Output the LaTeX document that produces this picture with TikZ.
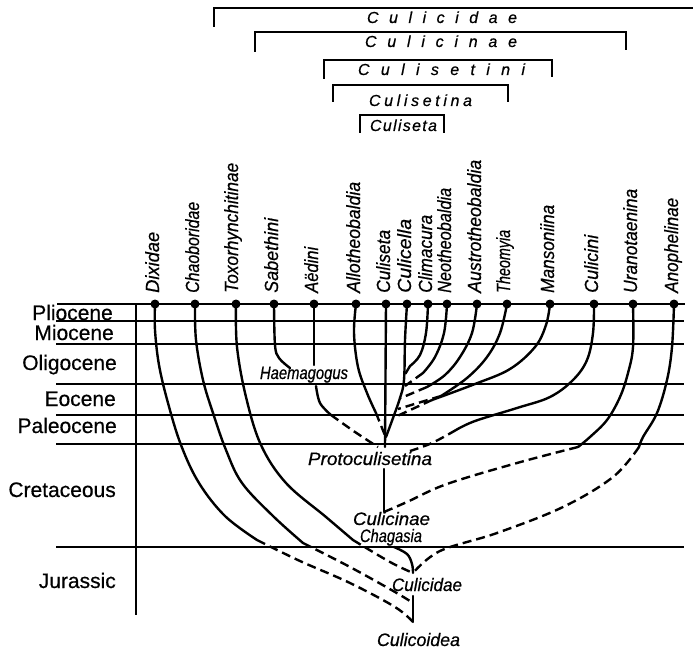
\documentclass[tikz,border=0pt]{standalone}
\usepackage{fontspec}
\setmainfont{Liberation Sans}
\newfontfamily\lfont[FakeBold=0.6]{Liberation Sans}
\newfontfamily\efont[FakeBold=0.5]{Liberation Sans}
\usepackage{graphicx}
\newcommand\fitw[2]{\resizebox{#1pt}{\height}{#2}}
\newcommand\spr[2]{\makebox[#1pt][s]{#2}}
\begin{document}
\begin{tikzpicture}[x=1pt,y=-1pt,
  grid/.style={line width=1.1pt},
  br/.style={line width=2.4pt, line cap=round},
  dsh/.style={line width=2.4pt, dash pattern=on 9pt off 5pt},
  brk/.style={line width=1.6pt},
  dot/.style={circle, fill=black, inner sep=0pt, minimum size=9pt},
  lab/.style={font=\fontsize{19}{19}\lfont\itshape, inner sep=0pt, rotate=90, anchor=base west},
  tlab/.style={font=\fontsize{18}{18}\lfont\itshape, inner sep=0pt, anchor=base},
  hdr/.style={font=\fontsize{16}{16}\lfont\itshape, inner sep=0pt, anchor=base},
  era/.style={font=\fontsize{21}{21}\efont, inner sep=0pt, anchor=base east}]
\useasboundingbox (0,0) rectangle (693,650);

% header brackets
\draw[brk] (214,27) -- (214,8) -- (693,8);
\draw[brk] (255,52) -- (255,32) -- (626,32) -- (626,50);
\draw[brk] (324,79) -- (324,60) -- (552,60) -- (552,77);
\draw[brk] (333,102) -- (333,85) -- (508,85) -- (508,102);
\draw[brk] (360,133) -- (360,115) -- (444,115) -- (444,133);
\node[hdr] (hCulicidae) at (442,23) {\spr{150}{C\hfill u\hfill l\hfill i\hfill c\hfill i\hfill d\hfill a\hfill e}};
\node[hdr] (hCulicinae) at (441,47) {\spr{152}{C\hfill u\hfill l\hfill i\hfill c\hfill i\hfill n\hfill a\hfill e}};
\node[hdr] (hCulisetini) at (441.5,75) {\spr{167}{C\hfill u\hfill l\hfill i\hfill s\hfill e\hfill t\hfill i\hfill n\hfill i}};
\node[hdr] (hCulisetina) at (420.5,106) {\spr{103}{C\hfill u\hfill l\hfill i\hfill s\hfill e\hfill t\hfill i\hfill n\hfill a}};
\node[hdr] (hCuliseta) at (403.5,131) {\spr{67}{C\hfill u\hfill l\hfill i\hfill s\hfill e\hfill t\hfill a}};

% time grid
\draw[line width=2.6pt] (57,304) -- (685,304);
\foreach \yy in {321,344,384,415,444,547} \draw[grid] (56,\yy) -- (684,\yy);
\draw[grid] (136,304) -- (136,615);

% era labels
\node[era] (ePlio) at (113,320) {Pliocene};
\node[era] (eMio) at (114,340) {Miocene};
\node[era] (eOli) at (117,370) {Oligocene};
\node[era] (eEo) at (116,406) {Eocene};
\node[era] (ePal) at (117,433) {Paleocene};
\node[era] (eCre) at (116,497) {Cretaceous};
\node[era] (eJur) at (116,588) {Jurassic};

% junctions
\coordinate (jProto) at (385,447);
\coordinate (jProtoB) at (384,469);
\coordinate (jCulicinae) at (384,512);
\coordinate (jChag) at (394,547);
\coordinate (jCulicidae) at (413,573);
\coordinate (jCulicidaeB) at (413,596);
\coordinate (jChaob) at (413,603);
\coordinate (jCulicoidea) at (413,622);

% tip dots
\node[dot] (dDix) at (155,304) {};
\node[dot] (dCha) at (195,304) {};
\node[dot] (dTox) at (236,304) {};
\node[dot] (dSab) at (274,304) {};
\node[dot] (dAed) at (314,304) {};
\node[dot] (dAll) at (356,304) {};
\node[dot] (dCus) at (386,304) {};
\node[dot] (dCuc) at (407,304) {};
\node[dot] (dCli) at (428,304) {};
\node[dot] (dNeo) at (447,304) {};
\node[dot] (dAus) at (477,304) {};
\node[dot] (dThe) at (507,304) {};
\node[dot] (dMan) at (550,304) {};
\node[dot] (dCui) at (594,304) {};
\node[dot] (dUra) at (633,304) {};
\node[dot] (dAno) at (674,304) {};

% tip labels
\node[lab] (lDix) at (159,293) {\fitw{61}{Dixidae}};
\node[lab] (lCha) at (199,293) {\fitw{91}{Chaoboridae}};
\node[lab] (lTox) at (238,293) {\fitw{130}{Toxorhynchitinae}};
\node[lab] (lSab) at (278,293) {\fitw{75}{Sabethini}};
\node[lab] (lAed) at (318,293) {\fitw{46}{Aëdini}};
\node[lab] (lAll) at (360,293) {\fitw{111}{Allotheobaldia}};
\node[lab] (lCus) at (390,293) {\fitw{63}{Culiseta}};
\node[lab] (lCuc) at (411,293) {\fitw{74}{Culicella}};
\node[lab] (lCli) at (432,293) {\fitw{78}{Climacura}};
\node[lab] (lNeo) at (451,293) {\fitw{105}{Neotheobaldia}};
\node[lab] (lAus) at (481,293) {\fitw{133}{Austrotheobaldia}};
\node[lab] (lThe) at (510,293) {\fitw{63}{Theomyia}};
\node[lab] (lMan) at (554,293) {\fitw{88}{Mansoniina}};
\node[lab] (lCui) at (598,293) {\fitw{58}{Culicini}};
\node[lab] (lUra) at (637,293) {\fitw{104}{Uranotaenina}};
\node[lab] (lAno) at (678,293) {\fitw{95}{Anophelinae}};

% inner labels
\node[tlab] (tHae) at (304,379) {\fitw{88}{Haemagogus}};
\node[tlab] (tPro) at (370,465) {\fitw{124}{Protoculisetina}};
\node[tlab] (tCin) at (391.5,525) {\fitw{77}{Culicinae}};
\node[tlab] (tCha) at (391,542) {\fitw{62}{Chagasia}};
\node[tlab] (tCid) at (427,591) {\fitw{70}{Culicidae}};
\node[tlab] (tCoi) at (418.5,646) {\fitw{83}{Culicoidea}};

% branches: outgroups
\draw[br] plot[smooth, tension=0.6] coordinates {(dDix.center) (155,330) (159,365) (168,403) (181,445) (199,483) (225,516) (257,540)};
\draw[dsh] plot[smooth, tension=0.6] coordinates {(257,540) (300,561) (350,583) (395,607) (jCulicoidea)};
\draw[br] plot[smooth, tension=0.6] coordinates {(dCha.center) (196,340) (203,380) (213,413) (226,450) (242,483) (273,516) (303,543)};
\draw[dsh] plot[smooth, tension=0.6] coordinates {(303,543) (350,567) (395,592) (jChaob)};
\draw[br] plot[smooth, tension=0.6] coordinates {(dTox.center) (237,347) (246,397) (261,445) (286,483) (326,517) (353,540)};
\draw[dsh] plot[smooth, tension=0.6] coordinates {(353,540) (390,562) (jCulicidae)};

% Sabethini, Aedini, Haemagogus
\draw[br] plot[smooth, tension=0.6] coordinates {(dSab.center) (275,345) (279,358) (290,368)};
\draw[br] (dAed.center) -- (314,365);
\draw[br] plot[smooth, tension=0.6] coordinates {(316,386) (320,403) (331,415)};
\draw[dsh] plot[smooth, tension=0.6] coordinates {(331,415) (355,432) (378,447)};

% Culisetina group
\draw[br] plot[smooth, tension=0.6] coordinates {(dAll.center) (354,333) (358,367) (367,393) (376,413)};
\draw[dsh] (376,413) -- (386,438);
\draw[br] (dCus.center) -- (jProto);
\draw[br] plot[smooth, tension=0.6] coordinates {(dCuc.center) (405,340) (404,380) (400,398) (393,418) (386,437)};
\draw[br] plot[smooth, tension=0.6] coordinates {(dCli.center) (426,333) (420,355) (410,366)};
\draw[dsh] (410,366) -- (404,376);
\draw[br] plot[smooth, tension=0.6] coordinates {(dNeo.center) (444,333) (435,357) (423,373)};
\draw[dsh] (423,373) -- (405,386);
\draw[br] plot[smooth, tension=0.6] coordinates {(dAus.center) (472,333) (460,357) (445,375) (427,387)};
\draw[dsh] (427,387) -- (401,398);
\draw[br] plot[smooth, tension=0.6] coordinates {(dThe.center) (500,333) (487,357) (467,378) (441,396)};
\draw[dsh] (441,396) -- (398,409);
\draw[br] plot[smooth, tension=0.6] coordinates {(dMan.center) (546,325) (535,347) (510,369) (475,384) (432,400)};
\draw[dsh] (432,400) -- (395,417);

% Culicini, Uranotaenina, Anophelinae
\draw[br] plot[smooth, tension=0.6] coordinates {(dCui.center) (593,333) (587,360) (573,380) (550,397) (517,408) (475,421) (456,430)};
\draw[dsh] plot[smooth, tension=0.6] coordinates {(456,430) (432,443) (410,451)};
\draw[br] plot[smooth, tension=0.6] coordinates {(dUra.center) (633,347) (628,373) (620,397) (607,420) (590,437) (578,447)};
\draw[dsh] plot[smooth, tension=0.6] coordinates {(578,447) (517,463) (447,484) (407,502) (jCulicinae)};
\draw[br] plot[smooth, tension=0.6] coordinates {(dAno.center) (672,347) (667,380) (657,413) (643,437) (639,447)};
\draw[dsh] plot[smooth, tension=0.6] coordinates {(639,447) (613,477) (563,507) (497,533) (440,551) (jCulicidae)};

% stems
\draw[br] (jProtoB) -- (jCulicinae);
\draw[br] plot[smooth, tension=0.6] coordinates {(jChag) (407,554) (412,564) (jCulicidae)};
\draw[br] (jCulicidaeB) -- (jCulicoidea);
\end{tikzpicture}
\end{document}
